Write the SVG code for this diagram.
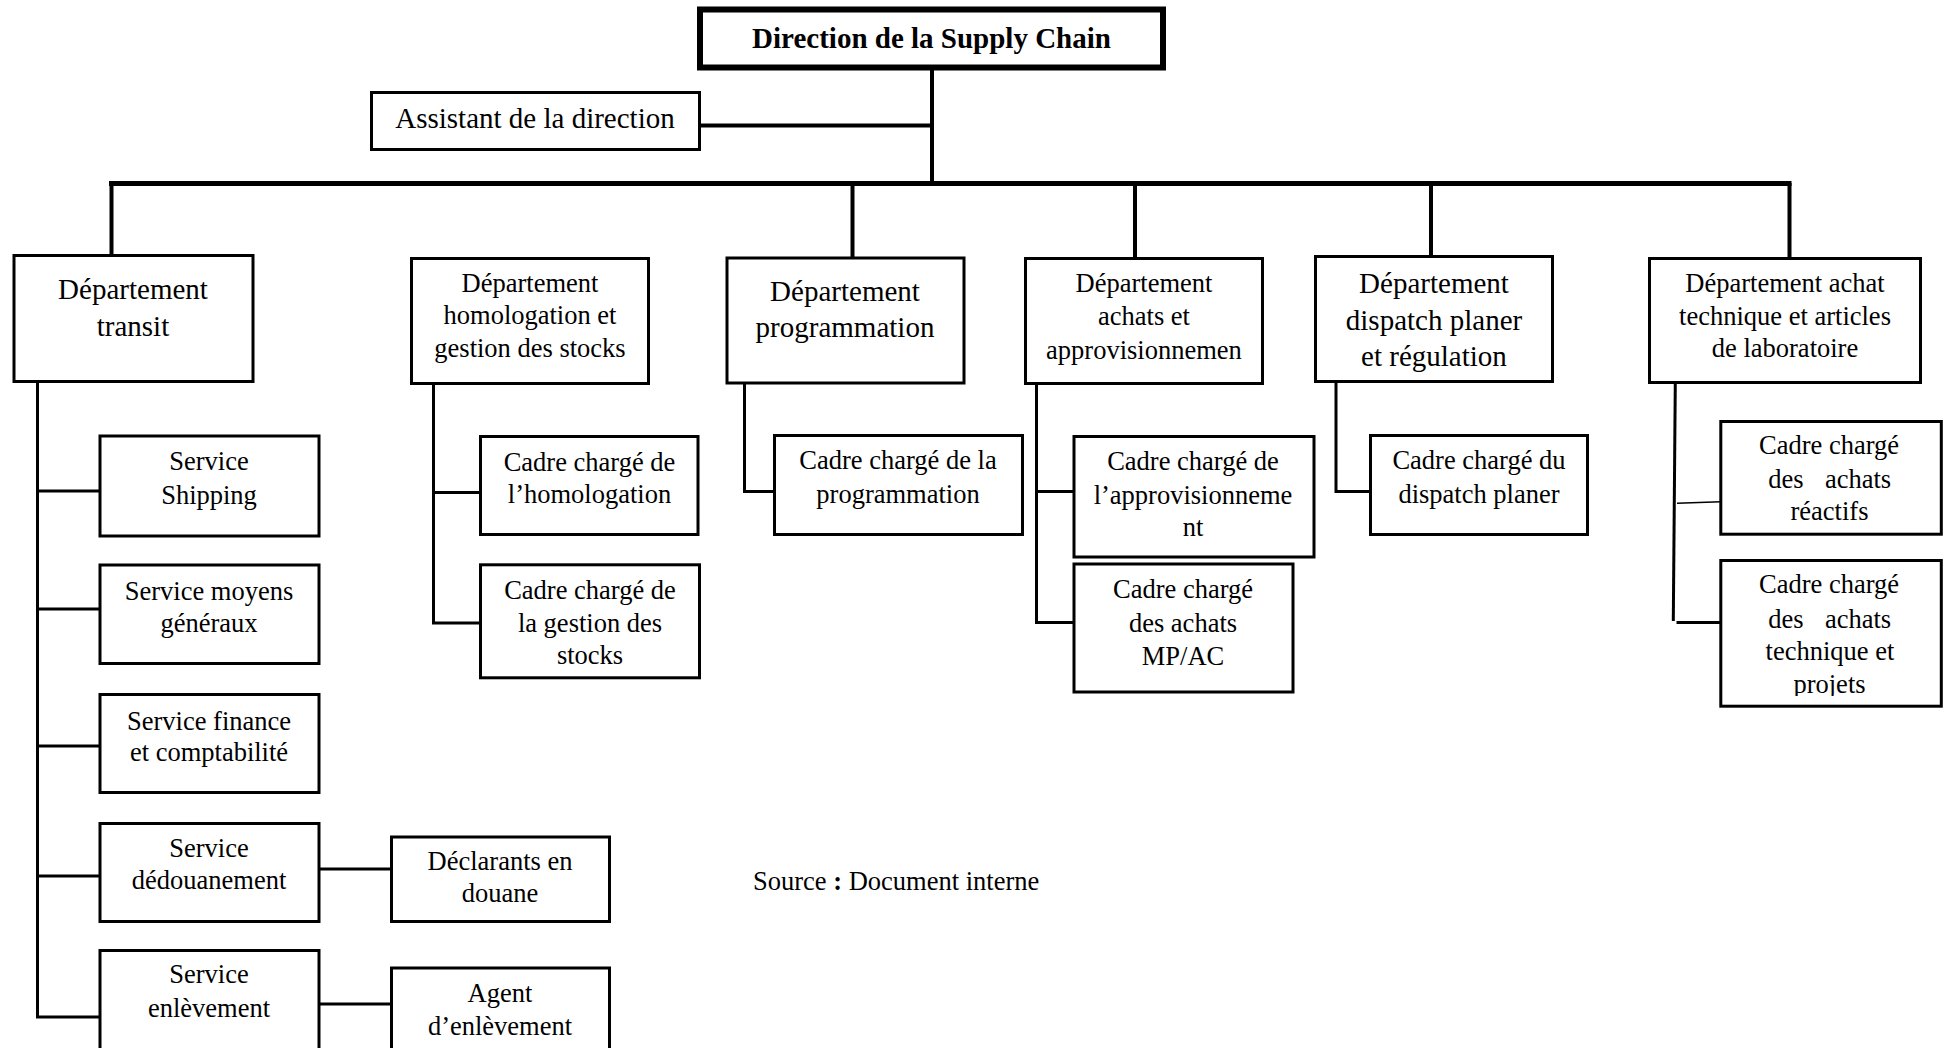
<svg xmlns="http://www.w3.org/2000/svg" width="1944" height="1048" viewBox="0 0 1944 1048">
  <style>
    .bg { fill: #ffffff; }
    .box { fill: #ffffff; stroke: #000000; stroke-width: 3; }
    .head { fill: #ffffff; stroke: #000000; stroke-width: 6; }
    .t { font-family: "Liberation Serif", "Times New Roman", serif; fill: #000000; text-anchor: middle; }
    .big { font-size: 29px; }
    .sm { font-size: 26.5px; }
    .bold { font-weight: bold; }
    .ln { fill: none; stroke: #000000; stroke-width: 3; stroke-linejoin: miter; }
    .ln4 { fill: none; stroke: #000000; stroke-width: 4; }
    .ln5 { fill: none; stroke: #000000; stroke-width: 5; }
    .thin { fill: none; stroke: #000000; stroke-width: 1.5; }
  </style>
  <defs>
    <clipPath id="clip-projets">
      <rect x="1720" y="560" width="222" height="136"/>
    </clipPath>
  </defs>

  <rect class="bg" x="0" y="0" width="1944" height="1048"/>

  <!-- connectors -->
  <g id="connectors">
    <!-- top level -->
    <line class="ln4" x1="932" y1="68" x2="932" y2="185"/>
    <line class="ln4" x1="700" y1="125.5" x2="932" y2="125.5"/>
    <line class="ln5" x1="109" y1="183.5" x2="1791.5" y2="183.5"/>
    <line class="ln4" x1="111.5" y1="183" x2="111.5" y2="255"/>
    <line class="ln4" x1="852.5" y1="183" x2="852.5" y2="258"/>
    <line class="ln4" x1="1135" y1="183" x2="1135" y2="258"/>
    <line class="ln4" x1="1431" y1="183" x2="1431" y2="256"/>
    <line class="ln4" x1="1789.5" y1="183" x2="1789.5" y2="258"/>

    <!-- transit branch -->
    <polyline class="ln" points="37.5,383 37.5,1017 100,1017"/>
    <line class="ln" x1="37.5" y1="491" x2="100" y2="491"/>
    <line class="ln" x1="37.5" y1="609" x2="100" y2="609"/>
    <line class="ln" x1="37.5" y1="746" x2="100" y2="746"/>
    <line class="ln" x1="37.5" y1="876" x2="100" y2="876"/>
    <line class="ln" x1="319" y1="869" x2="391.5" y2="869"/>
    <line class="ln" x1="319" y1="1004" x2="391.5" y2="1004"/>

    <!-- homologation branch -->
    <polyline class="ln" points="433.5,384 433.5,623 480.5,623"/>
    <line class="ln" x1="433.5" y1="492.5" x2="480.5" y2="492.5"/>

    <!-- programmation branch -->
    <polyline class="ln" points="744.5,383 744.5,491.5 774.5,491.5"/>

    <!-- achats branch -->
    <polyline class="ln" points="1036.5,383 1036.5,622.5 1074,622.5"/>
    <line class="ln" x1="1036.5" y1="491.5" x2="1074" y2="491.5"/>

    <!-- dispatch branch -->
    <polyline class="ln" points="1336,382 1336,491.5 1370.5,491.5"/>

    <!-- achat technique branch -->
    <line class="ln" x1="1675.3" y1="382" x2="1673.3" y2="621"/>
    <line class="thin" x1="1677" y1="503.3" x2="1720.8" y2="501.7"/>
    <line class="ln" x1="1676.5" y1="622.5" x2="1720.8" y2="622.5"/>
  </g>

  <!-- head -->
  <g id="direction">
    <rect class="head" x="700" y="9.5" width="463" height="58"/>
    <text class="t big bold" x="931.5" y="48">Direction de la Supply Chain</text>
  </g>

  <g id="assistant">
    <rect class="box" x="371.5" y="92.5" width="328" height="57"/>
    <text class="t big" x="535" y="128">Assistant de la direction</text>
  </g>

  <!-- departments -->
  <g id="dep-transit">
    <rect class="box" x="14" y="255.5" width="239" height="126"/>
    <text class="t big" x="133" y="299">Département</text>
    <text class="t big" x="133" y="336">transit</text>
  </g>

  <g id="dep-homologation">
    <rect class="box" x="411.5" y="258.5" width="237" height="125"/>
    <text class="t sm" x="530" y="292">Département</text>
    <text class="t sm" x="530" y="324">homologation et</text>
    <text class="t sm" x="530" y="357">gestion des stocks</text>
  </g>

  <g id="dep-programmation">
    <rect class="box" x="727" y="258" width="237" height="125"/>
    <text class="t big" x="845" y="300.5">Département</text>
    <text class="t big" x="845" y="336.5">programmation</text>
  </g>

  <g id="dep-achats">
    <rect class="box" x="1025.5" y="258.5" width="237" height="125"/>
    <text class="t sm" x="1144" y="292">Département</text>
    <text class="t sm" x="1144" y="325">achats et</text>
    <text class="t sm" x="1144" y="358.5">approvisionnemen</text>
  </g>

  <g id="dep-dispatch">
    <rect class="box" x="1315.5" y="256.5" width="237" height="125"/>
    <text class="t big" x="1434" y="293">Département</text>
    <text class="t big" x="1434" y="330">dispatch planer</text>
    <text class="t big" x="1434" y="366">et régulation</text>
  </g>

  <g id="dep-technique">
    <rect class="box" x="1649.5" y="258.5" width="271" height="124"/>
    <text class="t sm" x="1785" y="292">Département achat</text>
    <text class="t sm" x="1785" y="325">technique et articles</text>
    <text class="t sm" x="1785" y="357">de laboratoire</text>
  </g>

  <!-- transit services -->
  <g id="svc-shipping">
    <rect class="box" x="100" y="436" width="219" height="100"/>
    <text class="t sm" x="209" y="470">Service</text>
    <text class="t sm" x="209" y="503.5">Shipping</text>
  </g>

  <g id="svc-moyens">
    <rect class="box" x="100" y="565" width="219" height="98.5"/>
    <text class="t sm" x="209" y="599.5">Service moyens</text>
    <text class="t sm" x="209" y="631.5">généraux</text>
  </g>

  <g id="svc-finance">
    <rect class="box" x="100" y="694.5" width="219" height="98"/>
    <text class="t sm" x="209" y="729.5">Service finance</text>
    <text class="t sm" x="209" y="761">et comptabilité</text>
  </g>

  <g id="svc-dedouanement">
    <rect class="box" x="100" y="823.5" width="219" height="98"/>
    <text class="t sm" x="209" y="857">Service</text>
    <text class="t sm" x="209" y="889">dédouanement</text>
  </g>

  <g id="svc-enlevement">
    <rect class="box" x="100" y="950.5" width="219" height="120"/>
    <text class="t sm" x="209" y="983">Service</text>
    <text class="t sm" x="209" y="1016.5">enlèvement</text>
  </g>

  <g id="declarants">
    <rect class="box" x="391.5" y="837" width="218" height="84.5"/>
    <text class="t sm" x="500" y="870">Déclarants en</text>
    <text class="t sm" x="500" y="902">douane</text>
  </g>

  <g id="agent">
    <rect class="box" x="391.5" y="968" width="218" height="100"/>
    <text class="t sm" x="500" y="1001.5">Agent</text>
    <text class="t sm" x="500" y="1035">d’enlèvement</text>
  </g>

  <!-- homologation staff -->
  <g id="cadre-homologation">
    <rect class="box" x="480.5" y="436.5" width="217.5" height="98"/>
    <text class="t sm" x="589.5" y="470.5">Cadre chargé de</text>
    <text class="t sm" x="589.5" y="503.3">l’homologation</text>
  </g>

  <g id="cadre-stocks">
    <rect class="box" x="480.5" y="564.8" width="219" height="113"/>
    <text class="t sm" x="590" y="599">Cadre chargé de</text>
    <text class="t sm" x="590" y="631.7">la gestion des</text>
    <text class="t sm" x="590" y="664.3">stocks</text>
  </g>

  <!-- programmation staff -->
  <g id="cadre-programmation">
    <rect class="box" x="774.5" y="435.5" width="248" height="99"/>
    <text class="t sm" x="898" y="469">Cadre chargé de la</text>
    <text class="t sm" x="898" y="503">programmation</text>
  </g>

  <!-- achats staff -->
  <g id="cadre-approvisionnement">
    <rect class="box" x="1074" y="436.5" width="240" height="120.5"/>
    <text class="t sm" x="1193" y="470">Cadre chargé de</text>
    <text class="t sm" x="1193" y="504">l’approvisionneme</text>
    <text class="t sm" x="1193" y="536">nt</text>
  </g>

  <g id="cadre-mpac">
    <rect class="box" x="1074" y="564" width="219" height="128"/>
    <text class="t sm" x="1183" y="598.3">Cadre chargé</text>
    <text class="t sm" x="1183" y="631.7">des achats</text>
    <text class="t sm" x="1183" y="665">MP/AC</text>
  </g>

  <!-- dispatch staff -->
  <g id="cadre-dispatch">
    <rect class="box" x="1370.5" y="435.5" width="217" height="99"/>
    <text class="t sm" x="1479" y="469">Cadre chargé du</text>
    <text class="t sm" x="1479" y="503">dispatch planer</text>
  </g>

  <!-- achat technique staff -->
  <g id="cadre-reactifs">
    <rect class="box" x="1720.8" y="421.5" width="220.5" height="112.7"/>
    <text class="t sm" x="1829" y="454">Cadre chargé</text>
    <text class="t sm" x="1786" y="488.3">des</text>
    <text class="t sm" x="1858" y="488.3">achats</text>
    <text class="t sm" x="1829.5" y="520">réactifs</text>
  </g>

  <g id="cadre-technique">
    <rect class="box" x="1720.8" y="560.5" width="220.5" height="145.7"/>
    <text class="t sm" x="1829" y="593.3">Cadre chargé</text>
    <text class="t sm" x="1786" y="628">des</text>
    <text class="t sm" x="1858" y="628">achats</text>
    <text class="t sm" x="1830" y="660">technique et</text>
    <text class="t sm" x="1829.5" y="692.5" clip-path="url(#clip-projets)">projets</text>
  </g>

  <!-- source note -->
  <text class="t sm" x="753" y="890" style="text-anchor:start">Source <tspan font-weight="bold">:</tspan> Document interne</text>
</svg>
